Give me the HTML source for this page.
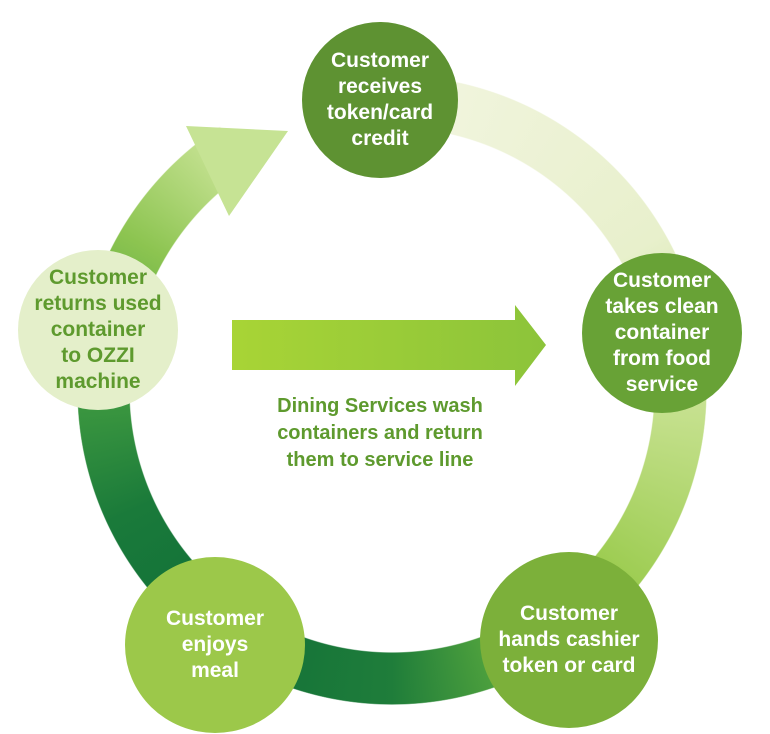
<!DOCTYPE html>
<html><head><meta charset="utf-8"><style>
body{margin:0;background:#fff;width:770px;height:734px;position:relative;overflow:hidden;font-family:"Liberation Sans",sans-serif;}
.ring{position:absolute;left:77px;top:75px;width:630px;height:630px;border-radius:50%;
background:conic-gradient(from 0deg,#f2f5e0 0deg,#e8f0cc 60deg,#c4e08c 95deg,#9ccc50 130deg,#5aaa3e 155deg,#1f7d3a 180deg,#106f38 215deg,#1a7a3a 245deg,#3f9a40 270deg,#8cc450 300deg,#c2e08e 322deg,#c6e394 326deg,transparent 327deg);
-webkit-mask:radial-gradient(circle,transparent 262px,#000 263px,#000 314px,transparent 315px);}
.c{position:absolute;border-radius:50%;display:flex;align-items:center;justify-content:center;text-align:center;color:#fff;font-weight:bold;font-size:21px;line-height:26px;}
.mid{position:absolute;left:230px;top:393px;width:300px;text-align:center;color:#5e9a2e;font-weight:bold;font-size:20px;line-height:27px;}
</style></head><body>
<div class="ring"></div>
<svg width="770" height="734" style="position:absolute;left:0;top:0">
<defs><linearGradient id="g" x1="0" x2="1"><stop offset="0" stop-color="#a8d436"/><stop offset="1" stop-color="#8cc43a"/></linearGradient></defs>
<polygon points="186,126 288,131 229,216" fill="#c6e394"/>
<polygon points="232,320 515,320 515,305 546,345 515,386 515,370 232,370" fill="url(#g)"/>
</svg>
<div class="c" style="left:302px;top:22px;width:156px;height:156px;background:#5e9232">Customer<br>receives<br>token/card<br>credit</div>
<div class="c" style="left:582px;top:253px;width:160px;height:160px;background:#68a236">Customer<br>takes clean<br>container<br>from food<br>service</div>
<div class="c" style="left:480px;top:552px;width:178px;height:176px;background:#7cb03a">Customer<br>hands cashier<br>token or card</div>
<div class="c" style="left:125px;top:557px;width:180px;height:176px;background:#9cc84a">Customer<br>enjoys<br>meal</div>
<div class="c" style="left:18px;top:250px;width:160px;height:160px;background:#e4efca;color:#5e9a2e">Customer<br>returns used<br>container<br>to OZZI<br>machine</div>
<div class="mid">Dining Services wash<br>containers and return<br>them to service line</div>
</body></html>
